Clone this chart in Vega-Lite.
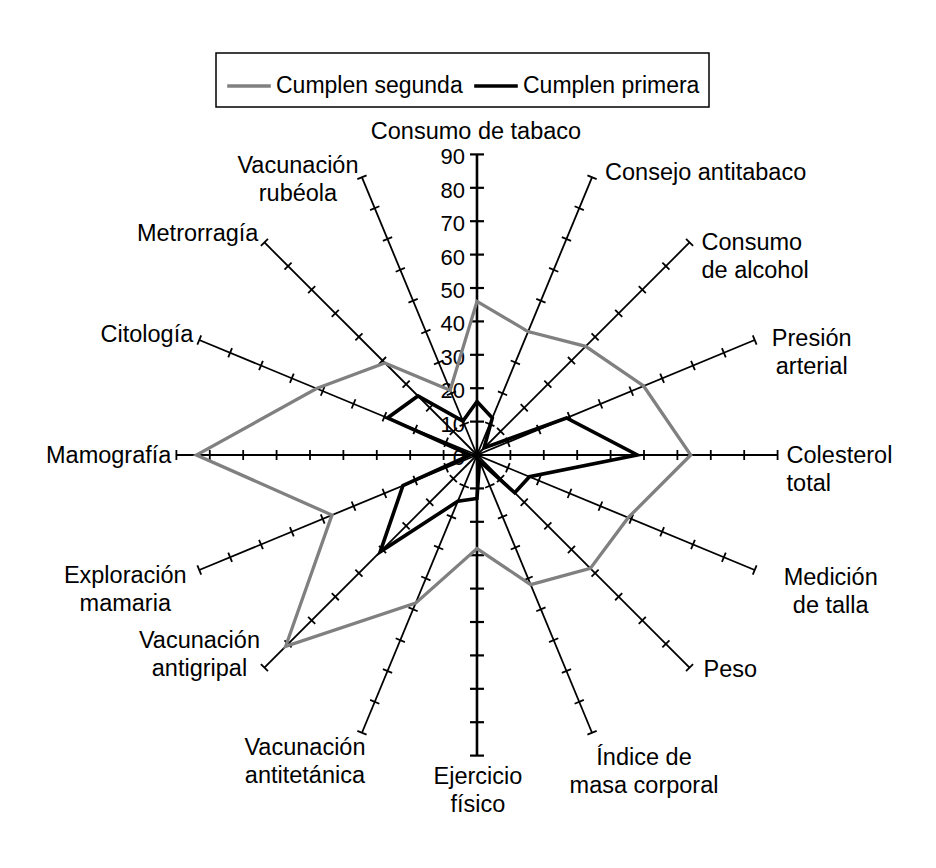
{
  "$schema": "https://vega.github.io/schema/vega-lite/v6.json",
  "width": 936,
  "height": 868,
  "autosize": {"type": "none"},
  "padding": 0,
  "background": "white",
  "config": {"view": {"stroke": null}, "font": "Liberation Sans", "legend": {"strokeWidth": 1.5}},
  "datasets": {
    "radar": [
      {"idx": 0, "eje": "Consumo de tabaco", "Cumplen segunda": 46, "Cumplen primera": 16},
      {"idx": 1, "eje": "Consejo antitabaco", "Cumplen segunda": 40, "Cumplen primera": 12},
      {"idx": 2, "eje": "Consumo\nde alcohol", "Cumplen segunda": 46, "Cumplen primera": 3},
      {"idx": 3, "eje": "Presión\narterial", "Cumplen segunda": 54, "Cumplen primera": 29},
      {"idx": 4, "eje": "Colesterol\ntotal", "Cumplen segunda": 64, "Cumplen primera": 48},
      {"idx": 5, "eje": "Medición\nde talla", "Cumplen segunda": 49, "Cumplen primera": 17},
      {"idx": 6, "eje": "Peso", "Cumplen segunda": 48, "Cumplen primera": 16},
      {"idx": 7, "eje": "Índice de\nmasa corporal", "Cumplen segunda": 42, "Cumplen primera": 2},
      {"idx": 8, "eje": "Ejercicio\nfísico", "Cumplen segunda": 28, "Cumplen primera": 13},
      {"idx": 9, "eje": "Vacunación\nantitetánica", "Cumplen segunda": 48, "Cumplen primera": 15},
      {"idx": 10, "eje": "Vacunación\nantigripal", "Cumplen segunda": 81, "Cumplen primera": 41},
      {"idx": 11, "eje": "Exploración\nmamaria", "Cumplen segunda": 47, "Cumplen primera": 24},
      {"idx": 12, "eje": "Mamografía", "Cumplen segunda": 84, "Cumplen primera": 2},
      {"idx": 13, "eje": "Citología", "Cumplen segunda": 52, "Cumplen primera": 29},
      {"idx": 14, "eje": "Metrorragía", "Cumplen segunda": 39, "Cumplen primera": 25},
      {"idx": 15, "eje": "Vacunación\nrubéola", "Cumplen segunda": 21, "Cumplen primera": 11}
    ],
    "ejes": [
      {"idx": 0, "marcas": [10, 20, 30, 40, 50, 60, 70, 80, 90]},
      {"idx": 1, "marcas": [10, 20, 30, 40, 50, 60, 70, 80, 90]},
      {"idx": 2, "marcas": [10, 20, 30, 40, 50, 60, 70, 80, 90]},
      {"idx": 3, "marcas": [10, 20, 30, 40, 50, 60, 70, 80, 90]},
      {"idx": 4, "marcas": [10, 20, 30, 40, 50, 60, 70, 80, 90]},
      {"idx": 5, "marcas": [10, 20, 30, 40, 50, 60, 70, 80, 90]},
      {"idx": 6, "marcas": [10, 20, 30, 40, 50, 60, 70, 80, 90]},
      {"idx": 7, "marcas": [10, 20, 30, 40, 50, 60, 70, 80, 90]},
      {"idx": 8, "marcas": [10, 20, 30, 40, 50, 60, 70, 80, 90]},
      {"idx": 9, "marcas": [10, 20, 30, 40, 50, 60, 70, 80, 90]},
      {"idx": 10, "marcas": [10, 20, 30, 40, 50, 60, 70, 80, 90]},
      {"idx": 11, "marcas": [10, 20, 30, 40, 50, 60, 70, 80, 90]},
      {"idx": 12, "marcas": [10, 20, 30, 40, 50, 60, 70, 80, 90]},
      {"idx": 13, "marcas": [10, 20, 30, 40, 50, 60, 70, 80, 90]},
      {"idx": 14, "marcas": [10, 20, 30, 40, 50, 60, 70, 80, 90]},
      {"idx": 15, "marcas": [10, 20, 30, 40, 50, 60, 70, 80, 90]}
    ],
    "escala": [
      {"v": 0}, {"v": 10}, {"v": 20}, {"v": 30}, {"v": 40},
      {"v": 50}, {"v": 60}, {"v": 70}, {"v": 80}, {"v": 90}
    ]
  },
  "encoding": {
    "x": {"field": "x", "type": "quantitative", "scale": {"domain": [-142.81, 137.43], "nice": false, "zero": false}, "axis": null},
    "y": {"field": "y", "type": "quantitative", "scale": {"domain": [-123.65, 136.23], "nice": false, "zero": false}, "axis": null}
  },
  "layer": [
    {
      "data": {"name": "radar"},
      "transform": [
        {"filter": "datum.idx % 8 != 0"},
        {"calculate": "PI/2 - datum.idx*PI/8", "as": "ang"},
        {"calculate": "0", "as": "x"},
        {"calculate": "0", "as": "y"},
        {"calculate": "90*cos(datum.ang)", "as": "xe"},
        {"calculate": "90*sin(datum.ang)", "as": "ye"}
      ],
      "mark": {"type": "rule", "color": "black", "strokeWidth": 1.8},
      "encoding": {"x2": {"field": "xe"}, "y2": {"field": "ye"}}
    },
    {
      "data": {"name": "radar"},
      "transform": [
        {"filter": "datum.idx % 8 == 0"},
        {"calculate": "PI/2 - datum.idx*PI/8", "as": "ang"},
        {"calculate": "0", "as": "x"},
        {"calculate": "0", "as": "y"},
        {"calculate": "90*cos(datum.ang)", "as": "xe"},
        {"calculate": "90*sin(datum.ang)", "as": "ye"}
      ],
      "mark": {"type": "rule", "color": "black", "strokeWidth": 2.6},
      "encoding": {"x2": {"field": "xe"}, "y2": {"field": "ye"}}
    },
    {
      "data": {"name": "ejes"},
      "transform": [
        {"flatten": ["marcas"]},
        {"filter": "datum.idx % 8 != 0"},
        {"calculate": "PI/2 - datum.idx*PI/8", "as": "ang"},
        {"calculate": "datum.marcas*cos(datum.ang)", "as": "x"},
        {"calculate": "datum.marcas*sin(datum.ang)", "as": "y"},
        {"calculate": "datum.idx*22.5", "as": "rot"}
      ],
      "mark": {"type": "point", "shape": "M -1 0 L 1 0", "filled": false, "color": "black", "strokeWidth": 1.8, "size": 100, "opacity": 1},
      "encoding": {"angle": {"field": "rot", "type": "quantitative", "scale": null}}
    },
    {
      "data": {"name": "ejes"},
      "transform": [
        {"flatten": ["marcas"]},
        {"filter": "datum.idx % 8 == 0"},
        {"calculate": "PI/2 - datum.idx*PI/8", "as": "ang"},
        {"calculate": "datum.marcas*cos(datum.ang)", "as": "x"},
        {"calculate": "datum.marcas*sin(datum.ang)", "as": "y"}
      ],
      "mark": {"type": "point", "shape": "M -1 0 L 1 0", "filled": false, "color": "black", "strokeWidth": 2.2, "size": 196, "opacity": 1}
    },
    {
      "data": {"name": "escala"},
      "transform": [
        {"calculate": "0", "as": "x"},
        {"calculate": "datum.v", "as": "y"}
      ],
      "mark": {"type": "text", "align": "right", "baseline": "middle", "dx": -12, "dy": 3, "fontSize": 22, "color": "black"},
      "encoding": {"text": {"field": "v", "type": "quantitative"}}
    },
    {
      "data": {"name": "radar"},
      "transform": [
        {"fold": ["Cumplen segunda", "Cumplen primera"], "as": ["serie", "valor"]},
        {"filter": "datum.serie == 'Cumplen segunda'"},
        {"calculate": "PI/2 - datum.idx*PI/8", "as": "ang"},
        {"calculate": "datum.valor*cos(datum.ang)", "as": "x"},
        {"calculate": "datum.valor*sin(datum.ang)", "as": "y"}
      ],
      "mark": {"type": "line", "interpolate": "linear-closed", "strokeWidth": 3.3},
      "encoding": {
        "color": {
          "field": "serie", "type": "nominal",
          "scale": {"domain": ["Cumplen segunda", "Cumplen primera"], "range": ["#808080", "#000000"]},
          "legend": {"orient": "none", "legendX": 216, "legendY": 53, "direction": "horizontal", "title": null, "symbolType": "stroke", "symbolSize": 1900, "symbolStrokeWidth": 3.5, "labelFontSize": 23, "labelFont": "Liberation Sans", "labelColor": "black", "labelLimit": 300, "strokeColor": "black", "padding": 9, "columnPadding": 4, "labelOffset": 3}
        },
        "order": {"field": "idx", "type": "quantitative"}
      }
    },
    {
      "data": {"name": "radar"},
      "transform": [
        {"fold": ["Cumplen segunda", "Cumplen primera"], "as": ["serie", "valor"]},
        {"filter": "datum.serie == 'Cumplen primera'"},
        {"calculate": "PI/2 - datum.idx*PI/8", "as": "ang"},
        {"calculate": "datum.valor*cos(datum.ang)", "as": "x"},
        {"calculate": "datum.valor*sin(datum.ang)", "as": "y"}
      ],
      "mark": {"type": "line", "interpolate": "linear-closed", "strokeWidth": 3.6},
      "encoding": {
        "color": {"field": "serie", "type": "nominal"},
        "order": {"field": "idx", "type": "quantitative"}
      }
    },
    {"data": {"name": "radar"}, "transform": [{"filter": "datum.idx == 0"}, {"calculate": "PI/2 - datum.idx*PI/8", "as": "ang"}, {"calculate": "90*cos(datum.ang)", "as": "x"}, {"calculate": "90*sin(datum.ang)", "as": "y"}],
     "mark": {"type": "text", "align": "center", "baseline": "alphabetic", "dx": -1, "dy": -15, "fontSize": 23.5, "lineBreak": "\n", "lineHeight": 28, "color": "black"}, "encoding": {"text": {"field": "eje"}}},
    {"data": {"name": "radar"}, "transform": [{"filter": "datum.idx == 1"}, {"calculate": "PI/2 - datum.idx*PI/8", "as": "ang"}, {"calculate": "90*cos(datum.ang)", "as": "x"}, {"calculate": "90*sin(datum.ang)", "as": "y"}],
     "mark": {"type": "text", "align": "left", "baseline": "alphabetic", "dx": 13, "dy": 3, "fontSize": 23.5, "lineBreak": "\n", "lineHeight": 28, "color": "black"}, "encoding": {"text": {"field": "eje"}}},
    {"data": {"name": "radar"}, "transform": [{"filter": "datum.idx == 2"}, {"calculate": "PI/2 - datum.idx*PI/8", "as": "ang"}, {"calculate": "90*cos(datum.ang)", "as": "x"}, {"calculate": "90*sin(datum.ang)", "as": "y"}],
     "mark": {"type": "text", "align": "left", "baseline": "alphabetic", "dx": 12, "dy": 8, "fontSize": 23.5, "lineBreak": "\n", "lineHeight": 28, "color": "black"}, "encoding": {"text": {"field": "eje"}}},
    {"data": {"name": "radar"}, "transform": [{"filter": "datum.idx == 3"}, {"calculate": "PI/2 - datum.idx*PI/8", "as": "ang"}, {"calculate": "90*cos(datum.ang)", "as": "x"}, {"calculate": "90*sin(datum.ang)", "as": "y"}],
     "mark": {"type": "text", "align": "center", "baseline": "alphabetic", "dx": 57, "dy": 6, "fontSize": 23.5, "lineBreak": "\n", "lineHeight": 28, "color": "black"}, "encoding": {"text": {"field": "eje"}}},
    {"data": {"name": "radar"}, "transform": [{"filter": "datum.idx == 4"}, {"calculate": "PI/2 - datum.idx*PI/8", "as": "ang"}, {"calculate": "90*cos(datum.ang)", "as": "x"}, {"calculate": "90*sin(datum.ang)", "as": "y"}],
     "mark": {"type": "text", "align": "left", "baseline": "alphabetic", "dx": 9, "dy": 8, "fontSize": 23.5, "lineBreak": "\n", "lineHeight": 28, "color": "black"}, "encoding": {"text": {"field": "eje"}}},
    {"data": {"name": "radar"}, "transform": [{"filter": "datum.idx == 5"}, {"calculate": "PI/2 - datum.idx*PI/8", "as": "ang"}, {"calculate": "90*cos(datum.ang)", "as": "x"}, {"calculate": "90*sin(datum.ang)", "as": "y"}],
     "mark": {"type": "text", "align": "center", "baseline": "alphabetic", "dx": 76, "dy": 15, "fontSize": 23.5, "lineBreak": "\n", "lineHeight": 28, "color": "black"}, "encoding": {"text": {"field": "eje"}}},
    {"data": {"name": "radar"}, "transform": [{"filter": "datum.idx == 6"}, {"calculate": "PI/2 - datum.idx*PI/8", "as": "ang"}, {"calculate": "90*cos(datum.ang)", "as": "x"}, {"calculate": "90*sin(datum.ang)", "as": "y"}],
     "mark": {"type": "text", "align": "left", "baseline": "alphabetic", "dx": 14, "dy": 9, "fontSize": 23.5, "lineBreak": "\n", "lineHeight": 28, "color": "black"}, "encoding": {"text": {"field": "eje"}}},
    {"data": {"name": "radar"}, "transform": [{"filter": "datum.idx == 7"}, {"calculate": "PI/2 - datum.idx*PI/8", "as": "ang"}, {"calculate": "90*cos(datum.ang)", "as": "x"}, {"calculate": "90*sin(datum.ang)", "as": "y"}],
     "mark": {"type": "text", "align": "center", "baseline": "alphabetic", "dx": 52, "dy": 32, "fontSize": 23.5, "lineBreak": "\n", "lineHeight": 28, "color": "black"}, "encoding": {"text": {"field": "eje"}}},
    {"data": {"name": "radar"}, "transform": [{"filter": "datum.idx == 8"}, {"calculate": "PI/2 - datum.idx*PI/8", "as": "ang"}, {"calculate": "90*cos(datum.ang)", "as": "x"}, {"calculate": "90*sin(datum.ang)", "as": "y"}],
     "mark": {"type": "text", "align": "center", "baseline": "alphabetic", "dx": 1, "dy": 28, "fontSize": 23.5, "lineBreak": "\n", "lineHeight": 28, "color": "black"}, "encoding": {"text": {"field": "eje"}}},
    {"data": {"name": "radar"}, "transform": [{"filter": "datum.idx == 9"}, {"calculate": "PI/2 - datum.idx*PI/8", "as": "ang"}, {"calculate": "90*cos(datum.ang)", "as": "x"}, {"calculate": "90*sin(datum.ang)", "as": "y"}],
     "mark": {"type": "text", "align": "center", "baseline": "alphabetic", "dx": -57, "dy": 22, "fontSize": 23.5, "lineBreak": "\n", "lineHeight": 28, "color": "black"}, "encoding": {"text": {"field": "eje"}}},
    {"data": {"name": "radar"}, "transform": [{"filter": "datum.idx == 10"}, {"calculate": "PI/2 - datum.idx*PI/8", "as": "ang"}, {"calculate": "90*cos(datum.ang)", "as": "x"}, {"calculate": "90*sin(datum.ang)", "as": "y"}],
     "mark": {"type": "text", "align": "center", "baseline": "alphabetic", "dx": -65, "dy": -20, "fontSize": 23.5, "lineBreak": "\n", "lineHeight": 28, "color": "black"}, "encoding": {"text": {"field": "eje"}}},
    {"data": {"name": "radar"}, "transform": [{"filter": "datum.idx == 11"}, {"calculate": "PI/2 - datum.idx*PI/8", "as": "ang"}, {"calculate": "90*cos(datum.ang)", "as": "x"}, {"calculate": "90*sin(datum.ang)", "as": "y"}],
     "mark": {"type": "text", "align": "center", "baseline": "alphabetic", "dx": -74, "dy": 13, "fontSize": 23.5, "lineBreak": "\n", "lineHeight": 28, "color": "black"}, "encoding": {"text": {"field": "eje"}}},
    {"data": {"name": "radar"}, "transform": [{"filter": "datum.idx == 12"}, {"calculate": "PI/2 - datum.idx*PI/8", "as": "ang"}, {"calculate": "90*cos(datum.ang)", "as": "x"}, {"calculate": "90*sin(datum.ang)", "as": "y"}],
     "mark": {"type": "text", "align": "right", "baseline": "alphabetic", "dx": -5, "dy": 8, "fontSize": 23.5, "lineBreak": "\n", "lineHeight": 28, "color": "black"}, "encoding": {"text": {"field": "eje"}}},
    {"data": {"name": "radar"}, "transform": [{"filter": "datum.idx == 13"}, {"calculate": "PI/2 - datum.idx*PI/8", "as": "ang"}, {"calculate": "90*cos(datum.ang)", "as": "x"}, {"calculate": "90*sin(datum.ang)", "as": "y"}],
     "mark": {"type": "text", "align": "right", "baseline": "alphabetic", "dx": -6, "dy": 2, "fontSize": 23.5, "lineBreak": "\n", "lineHeight": 28, "color": "black"}, "encoding": {"text": {"field": "eje"}}},
    {"data": {"name": "radar"}, "transform": [{"filter": "datum.idx == 14"}, {"calculate": "PI/2 - datum.idx*PI/8", "as": "ang"}, {"calculate": "90*cos(datum.ang)", "as": "x"}, {"calculate": "90*sin(datum.ang)", "as": "y"}],
     "mark": {"type": "text", "align": "right", "baseline": "alphabetic", "dx": -6, "dy": -1, "fontSize": 23.5, "lineBreak": "\n", "lineHeight": 28, "color": "black"}, "encoding": {"text": {"field": "eje"}}},
    {"data": {"name": "radar"}, "transform": [{"filter": "datum.idx == 15"}, {"calculate": "PI/2 - datum.idx*PI/8", "as": "ang"}, {"calculate": "90*cos(datum.ang)", "as": "x"}, {"calculate": "90*sin(datum.ang)", "as": "y"}],
     "mark": {"type": "text", "align": "center", "baseline": "alphabetic", "dx": -64, "dy": -4, "fontSize": 23.5, "lineBreak": "\n", "lineHeight": 28, "color": "black"}, "encoding": {"text": {"field": "eje"}}}
  ]
}
